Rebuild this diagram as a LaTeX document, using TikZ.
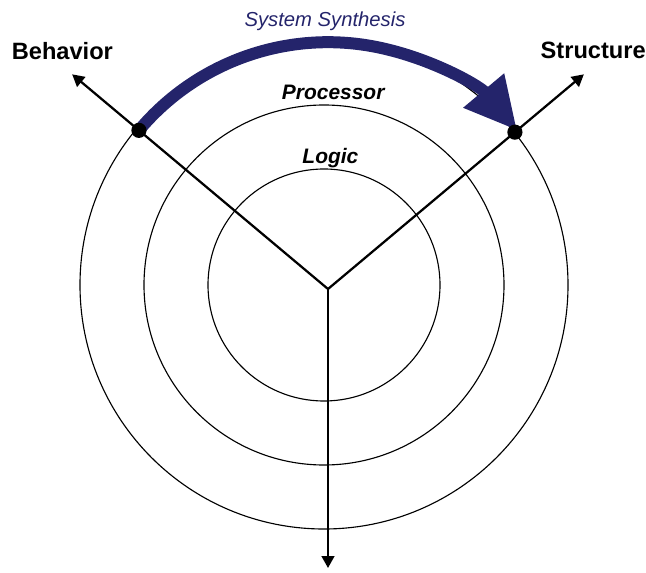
\documentclass[tikz,border=0pt]{standalone}
\usepackage{fontspec}
\setmainfont{Liberation Sans}
\usepackage{tikz}
\usetikzlibrary{arrows.meta}
\definecolor{synthblue}{RGB}{36,36,107}

\begin{document}
\begin{tikzpicture}[ring/.style = {line width=0.8pt},
  axis/.style = {line width=1.6pt, -{Triangle[length=8.5pt,width=9pt]}},
  dot/.style = {circle, fill=black, inner sep=0pt, minimum size=0.38cm},
  synth/.style = {draw=synthblue, line width=0.3cm, -{Triangle[length=1.3cm,width=1.25cm]}},
  viewlbl/.style = {font=\fontsize{16.8}{18}\selectfont\bfseries},
  levellbl/.style = {font=\fontsize{14.9}{17}\selectfont\bfseries\itshape}]
\useasboundingbox (-8.2,-7.075) rectangle (7.95,7.225);
\coordinate (O) at (0,0);
\coordinate (C) at (-0.1,0.1);
% levels
\draw[ring] (C) circle[radius=2.9];
\draw[ring] (C) circle[radius=4.5];
\draw[ring] (C) circle[radius=6.1];
% axes
\coordinate (btip) at (140:8.35);
\coordinate (stip) at (40:8.35);
\coordinate (dtip) at (-90:6.975);
\draw[axis] (O) -- (btip);
\draw[axis] (O) -- (stip);
\draw[axis] (O) -- (dtip);
% synthesis arrow
\coordinate (b) at (140:6.17);
\coordinate (s) at (40:6.1);
\draw[synth] (b) arc[start angle=140, end angle=40, radius=6.17];
\node[dot] (bdot) at (b) {};
\node[dot] (sdot) at (s) {};
% labels
\node[viewlbl] (behavior) at (-6.64,5.96) {Behavior};
\node[viewlbl] (structure) at (6.63,5.96) {Structure};
\node[levellbl] (processor) at (0.13,4.925) {Processor};
\node[levellbl] (logic) at (0.06,3.275) {Logic};
\node[font=\fontsize{14.4}{16}\selectfont\itshape, text=synthblue] (synthesis) at (-0.075,6.7) {System Synthesis};
\end{tikzpicture}
\end{document}
